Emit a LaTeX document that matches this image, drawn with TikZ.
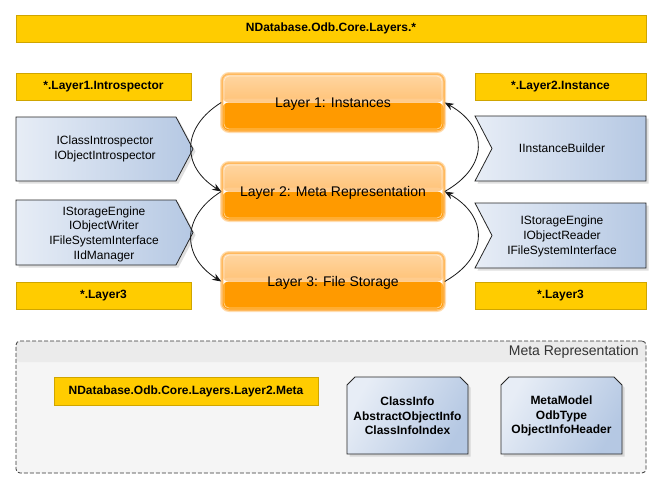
\documentclass[tikz,border=0pt]{standalone}
\usepackage{fontspec}
\setmainfont{Liberation Sans}
\usetikzlibrary{arrows.meta,shadows}
\definecolor{ybfill}{HTML}{FFCC00}
\definecolor{ybdraw}{HTML}{CFA500}
\definecolor{blueL}{HTML}{E7EDF6}
\definecolor{blueR}{HTML}{B5C8E3}
\definecolor{laytop}{HTML}{FFD6A2}
\definecolor{laymid}{HTML}{FFC276}
\definecolor{layor}{HTML}{FF9A00}
\definecolor{laybord}{HTML}{FFB95E}
\definecolor{layglow}{HTML}{FFDDB0}
\definecolor{metabg}{HTML}{F5F5F5}
\definecolor{metahd}{HTML}{EBEBEB}
\begin{document}
\begin{tikzpicture}[x=1pt,y=-1pt,
  ybox/.style={draw=ybdraw, fill=ybfill, line width=0.8pt, inner sep=0pt,
    minimum height=27pt, font=\fontsize{12}{14}\selectfont\bfseries},
  layerbox/.style={rounded corners=7pt, draw=laybord, line width=1.5pt,
    minimum width=222pt, minimum height=57pt, inner sep=0pt,
    text height=10pt, text depth=0pt,
    font=\fontsize{14}{16}\selectfont,
    preaction={draw=layglow, line width=4pt},
    path picture={
      \fill[layor] (path picture bounding box.west) rectangle (path picture bounding box.south east);
      \shade[top color=laytop, bottom color=laymid] (path picture bounding box.north west) rectangle (path picture bounding box.east);
      \fill[white, opacity=0.15] ([yshift=4pt]path picture bounding box.west) rectangle (path picture bounding box.east);
      \draw[white, opacity=0.55, line width=0.8pt, rounded corners=5pt]
        ([shift={(2pt,-2pt)}]path picture bounding box.north west) rectangle
        ([shift={(-2pt,2pt)}]path picture bounding box.south east);
    }},
  bluebox/.style={draw=black!85, line width=0.8pt, left color=blueL, right color=blueR,
    drop shadow={shadow xshift=2.5pt, shadow yshift=-2.5pt, opacity=0.25}},
  bluebox2/.style={draw=black!85, line width=0.8pt, left color=blueL, right color=blueR,
    shading angle=60,
    drop shadow={shadow xshift=2.5pt, shadow yshift=-2.5pt, opacity=0.25}},
  btext/.style={font=\fontsize{12}{14.7}\selectfont, align=center, inner sep=0pt},
  bbtext/.style={font=\fontsize{12}{14.7}\selectfont\bfseries, align=center, inner sep=0pt},
  conn/.style={draw=black!90, line width=0.8pt, -{Stealth[length=9pt,width=7pt]}}
]
\useasboundingbox[fill=white] (0,0) rectangle (662,488);

% top banner and package labels
\node[ybox, minimum width=630pt] (top) at (331,28.5) {NDatabase.Odb.Core.Layers.*};
\node[ybox, minimum width=175pt] (lab1) at (103.5,86.5) {*.Layer1.Introspector};
\node[ybox, minimum width=171pt] (lab2) at (560.5,86.5) {*.Layer2.Instance};
\node[ybox, minimum width=175pt] (lab3) at (103.5,296) {*.Layer3};
\node[ybox, minimum width=171pt] (lab4) at (560.5,296) {*.Layer3};

% left chevrons
\path[bluebox] (16,117) -- (176,117) -- (193,149) -- (176,181) -- (16,181) -- cycle;
\node[btext] (intro) at (105,149) {IClassIntrospector\\IObjectIntrospector};
\path[bluebox] (16,200) -- (176,200) -- (193,232.5) -- (176,265) -- (16,265) -- cycle;
\node[btext] (writer) at (104,234) {IStorageEngine\\IObjectWriter\\IFileSystemInterface\\IIdManager};

% right chevrons
\path[bluebox] (475,116) -- (646,116) -- (646,181) -- (475,181) -- (492,148.5) -- cycle;
\node[btext] (builder) at (562,148.5) {IInstanceBuilder};
\path[bluebox] (475,203) -- (646,203) -- (646,268) -- (475,268) -- (492,235.5) -- cycle;
\node[btext] (reader) at (562,236.5) {IStorageEngine\\IObjectReader\\IFileSystemInterface};

% layers
\node[layerbox] (l1) at (333,102.5) {Layer 1: Instances};
\node[layerbox] (l2) at (333,191.5) {Layer 2: Meta Representation};
\node[layerbox] (l3) at (333,281.5) {Layer 3: File Storage};

% connectors
\draw[conn] (l1.west) .. controls +(-40,25) and +(-40,-25) .. (l2.west);
\draw[conn] (l2.west) .. controls +(-40,25) and +(-40,-25) .. (l3.west);
\draw[conn] (l2.east) .. controls +(44,-25) and +(44,25) .. (l1.east);
\draw[conn] (l3.east) .. controls +(44,-25) and +(44,25) .. (l2.east);

% meta representation container
\node[draw=black!80, dash pattern=on 4pt off 2pt, line width=0.8pt, rounded corners=4pt,
  fill=metabg, minimum width=630pt, minimum height=132pt, inner sep=0pt,
  path picture={\fill[metahd] (path picture bounding box.north west) rectangle ([yshift=-21pt]path picture bounding box.north east);}]
  (meta) at (331,407) {};
\node[anchor=east, inner sep=0pt, font=\fontsize{14}{16}\selectfont, text=black!80] (metatitle) at (639,352) {Meta Representation};
\node[ybox, minimum width=264pt, minimum height=28pt] (metapkg) at (186,391) {NDatabase.Odb.Core.Layers.Layer2.Meta};

\path[bluebox2] (347,385) -- (355,377) -- (460,377) -- (468,385) -- (468,454) -- (347,454) -- cycle;
\node[bbtext] (classinfo) at (407.5,416) {ClassInfo\\AbstractObjectInfo\\ClassInfoIndex};
\path[bluebox2] (501,385) -- (509,377) -- (614,377) -- (622,385) -- (622,454) -- (501,454) -- cycle;
\node[bbtext] (metamodel) at (561.5,416) {MetaModel\\OdbType\\ObjectInfoHeader};
\end{tikzpicture}
\end{document}
